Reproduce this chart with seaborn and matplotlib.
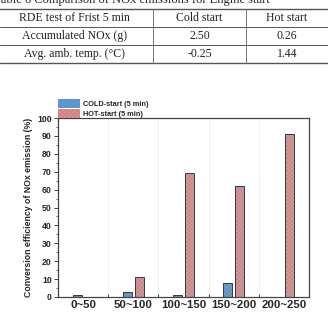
import matplotlib
matplotlib.use('Agg')
import matplotlib.pyplot as plt
import numpy as np
import pandas as pd
import seaborn as sns
from matplotlib.lines import Line2D
from matplotlib.patches import Patch, Rectangle

# table data
table_title = 'Table 6 Comparison of NOx emissions for Engine start'
table_header = ['RDE test of Frist 5 min', 'Cold start', 'Hot start']
table_rows = [['Accumulated NOx (g)', '2.50', '0.26'],
              ['Avg. amb. temp. (\u00b0C)', '-0.25', '1.44']]

# chart data
categories = ['0~50', '50~100', '100~150', '150~200', '200~250']
cold_values = [1.0, 3.0, 1.0, 8.0, 0.0]
hot_values = [0.0, 11.0, 69.0, 62.0, 91.0]
series_names = ['COLD-start (5 min)', 'HOT-start (5 min)']

colors = {'COLD-start (5 min)': '#5f9fd8', 'HOT-start (5 min)': '#dc9092'}
hatch_colors = {'COLD-start (5 min)': '#5585b5', 'HOT-start (5 min)': '#b87a7c'}
edge_color = '#3a3a3a'

sns.set_style('ticks')
plt.rcParams['font.family'] = ['Liberation Sans', 'DejaVu Sans']
plt.rcParams['hatch.linewidth'] = 0.3

W, H = 328, 312
fig = plt.figure(figsize=(W / 100, H / 100), dpi=100)


def fx(px):
    return px / W


def fy(py):
    return 1 - py / H


# ---- table ----
fig.text(fx(-6), fy(3), table_title, family='Liberation Serif', fontsize=9,
         ha='left', va='baseline')
row_lines = [9, 27.3, 45, 62.7]
col_lines = [153, 246]
col_centers = [74, 199.5, 287]
for i, yl in enumerate(row_lines):
    lw = 1.0 if i in (0, len(row_lines) - 1) else 0.7
    fig.add_artist(Line2D([0, 1], [fy(yl), fy(yl)], color='#555555', lw=lw))
for xl in col_lines:
    fig.add_artist(Line2D([fx(xl), fx(xl)], [fy(row_lines[0]), fy(row_lines[-1])],
                          color='#777777', lw=0.7))
all_rows = [table_header] + table_rows
for r, row in enumerate(all_rows):
    yc = (row_lines[r] + row_lines[r + 1]) / 2
    for c, txt in enumerate(row):
        fig.text(fx(col_centers[c]), fy(yc), txt, family='Liberation Serif',
                 fontsize=8.5, ha='center', va='center', color='#222222')

# ---- bar chart ----
ax = fig.add_axes([fx(58), fy(297), fx(309) - fx(58), fy(118) - fy(297)])
df = pd.DataFrame({
    'range': categories * 2,
    'value': cold_values + hot_values,
    'series': [series_names[0]] * len(categories) + [series_names[1]] * len(categories),
})
sns.barplot(data=df, x='range', y='value', hue='series', palette=colors,
            width=0.48, gap=0.25, ax=ax, legend=False, errorbar=None)

n = len(categories)
bars = list(ax.patches[:2 * n])
for i, p in enumerate(bars):
    s = series_names[i // n]
    p.set_hatch('xxxxxxxx')
    p.set_edgecolor(hatch_colors[s])
    p.set_linewidth(0)
    if p.get_height() > 0:
        ax.add_patch(Rectangle(p.get_xy(), p.get_width(), p.get_height(),
                               fill=False, edgecolor=edge_color, lw=0.7, zorder=3))

ax.set_xlim(-0.5, n - 0.5)
ax.set_ylim(0, 100)
ax.set_yticks(np.arange(0, 101, 10))
ax.set_yticks(np.arange(5, 100, 10), minor=True)
ax.set_xticks(np.arange(0.5, n - 0.5, 1), minor=True)
for xb in np.arange(0.5, n - 0.5, 1):
    ax.axvline(xb, color='#eeeeee', lw=0.6, zorder=0)
ax.tick_params(axis='x', which='major', length=0, pad=2, labelsize=8.2)
ax.tick_params(axis='x', which='minor', length=2, direction='in', width=0.6)
ax.tick_params(axis='y', which='major', length=3, width=0.6, labelsize=6.3, pad=1.5)
ax.tick_params(axis='y', which='minor', length=1.5, width=0.5)
for lab in ax.get_xticklabels() + ax.get_yticklabels():
    lab.set_fontweight('bold')
for sp in ax.spines.values():
    sp.set_visible(True)
    sp.set_linewidth(0.9)
    sp.set_color('#444444')
ax.set_xlabel('')
ax.set_ylabel('Conversion efficiency of NOx emission (%)', fontsize=6.3,
              fontweight='bold', labelpad=3)

handles = [Patch(facecolor=colors[s], edgecolor=hatch_colors[s], hatch='xxxxxxxx', lw=0)
           for s in series_names]
ax.legend(handles, series_names, loc='lower left', bbox_to_anchor=(0, 1.0),
          frameon=False, borderaxespad=0, borderpad=0, handlelength=3.0,
          handleheight=1.45, handletextpad=0.4, labelspacing=0.22,
          prop={'size': 5.3, 'weight': 'bold'})

fig.savefig('out.png', dpi=100)
